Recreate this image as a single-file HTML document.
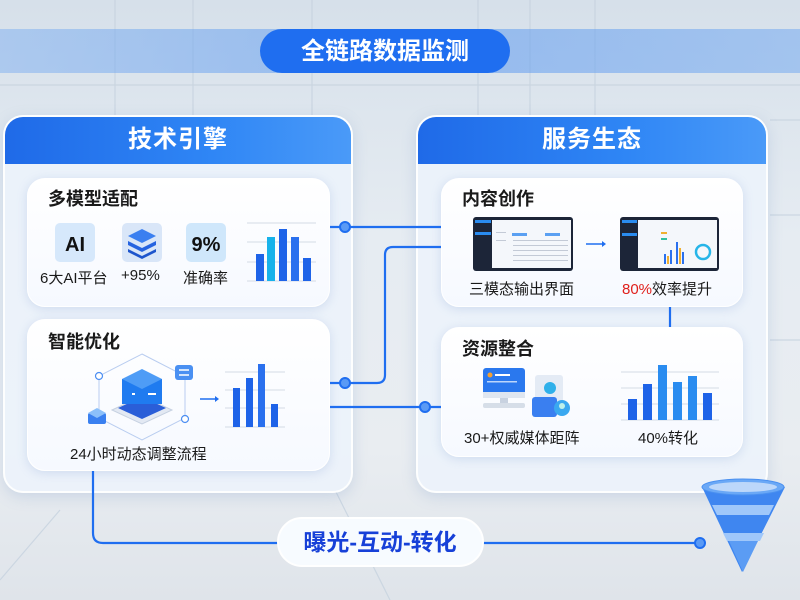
<!DOCTYPE html>
<html><head><meta charset="utf-8">
<style>
*{margin:0;padding:0;box-sizing:border-box}
body{width:800px;height:600px;overflow:hidden;position:relative;font-family:"Liberation Sans","Noto Sans CJK SC",sans-serif;
background:linear-gradient(180deg,#d6e0ea 0%,#e6ecf2 40%,#e9edf1 75%,#dfe4ea 100%);}
.abs{position:absolute}
.panel{position:absolute;border-radius:20px;background:rgba(236,243,252,0.85);border:2px solid rgba(255,255,255,0.9);box-shadow:0 4px 14px rgba(120,150,200,0.25);overflow:hidden}
.ph{height:47px;background:linear-gradient(90deg,#1f6ae8,#2f86f5 60%,#4a9af8);color:#fff;font-size:24px;font-weight:bold;text-align:center;line-height:46px;letter-spacing:1px}
.card{position:absolute;border-radius:18px;background:linear-gradient(180deg,#ffffff,#f6f9ff);box-shadow:0 2px 10px rgba(120,150,210,0.25);border:1px solid #fff}
.ct{position:absolute;font-size:18px;font-weight:bold;color:#1a1a1a}
.lb{position:absolute;font-size:15px;color:#1a1a1a;white-space:nowrap}
</style></head><body>
<svg class="abs" style="left:0;top:0" width="800" height="600">
<defs><linearGradient id="band" x1="0" x2="1"><stop offset="0" stop-color="#7eaff0" stop-opacity="0.5"/><stop offset="0.5" stop-color="#5b98ee" stop-opacity="0.55"/><stop offset="1" stop-color="#7eaff0" stop-opacity="0.6"/></linearGradient></defs>
<g stroke="#c6d2de" stroke-width="1.2" fill="none" opacity="0.8">
<line x1="115" y1="0" x2="115" y2="115"/><line x1="193" y1="0" x2="193" y2="115"/><line x1="312" y1="0" x2="312" y2="115"/><line x1="478" y1="0" x2="478" y2="115"/><line x1="530" y1="0" x2="530" y2="115"/><line x1="595" y1="0" x2="595" y2="115"/>
<line x1="0" y1="85" x2="800" y2="85"/>
<line x1="770" y1="120" x2="800" y2="120"/><line x1="770" y1="215" x2="800" y2="215"/><line x1="770" y1="340" x2="800" y2="340"/>
<line x1="0" y1="580" x2="60" y2="510"/><line x1="335" y1="490" x2="390" y2="600"/>
</g>
<rect x="0" y="29" width="800" height="44" fill="url(#band)"/>
<rect x="260" y="29" width="250" height="44" rx="22" fill="#1f6ef0"/>
<text x="385" y="59" text-anchor="middle" font-size="24" font-weight="bold" fill="#fff" font-family="Liberation Sans,Noto Sans CJK SC,sans-serif">全链路数据监测</text>
</svg>

<div class="panel" style="left:3px;top:115px;width:350px;height:378px"><div class="ph">技术引擎</div></div>
<div class="panel" style="left:416px;top:115px;width:352px;height:378px"><div class="ph">服务生态</div></div>

<div class="card" style="left:27px;top:178px;width:303px;height:129px"></div>
<div class="card" style="left:27px;top:319px;width:303px;height:152px"></div>
<div class="card" style="left:441px;top:178px;width:302px;height:129px"></div>
<div class="card" style="left:441px;top:327px;width:302px;height:130px"></div>

<div class="ct" style="left:48px;top:185px">多模型适配</div>
<div class="ct" style="left:48px;top:328px">智能优化</div>
<div class="ct" style="left:462px;top:185px">内容创作</div>
<div class="ct" style="left:462px;top:335px">资源整合</div>

<svg class="abs" style="left:0;top:0" width="800" height="600">
<g stroke="#1f6ef0" stroke-width="2.2" fill="none">
<line x1="330" y1="227" x2="441" y2="227"/>
<path d="M330 383 H377 Q385 383 385 375 V255 Q385 247 393 247 H441"/>
<line x1="330" y1="407" x2="441" y2="407"/>
<line x1="670" y1="307" x2="670" y2="327"/>
<path d="M93 471 V533 Q93 543 103 543 H280"/>
<line x1="483" y1="543" x2="700" y2="543"/>
</g>
<circle cx="345" cy="227" r="5" fill="#5a9af5" stroke="#1f6ef0" stroke-width="2"/>
<circle cx="345" cy="383" r="5" fill="#5a9af5" stroke="#1f6ef0" stroke-width="2"/>
<circle cx="425" cy="407" r="5" fill="#5a9af5" stroke="#1f6ef0" stroke-width="2"/>
<circle cx="700" cy="543" r="5" fill="#5a9af5" stroke="#1f6ef0" stroke-width="2"/>

<rect x="55" y="223" width="40" height="39" rx="5" fill="#d6e8fb"/>
<text x="75" y="251" text-anchor="middle" font-size="20" font-weight="bold" fill="#111">AI</text>
<rect x="122" y="223" width="40" height="39" rx="5" fill="#d9e6f8"/>
<path d="M142 229 L156 236 L142 243 L128 236Z" fill="#3a7ff0"/>
<path d="M128 241 L142 248 L156 241 L156 245 L142 252 L128 245Z" fill="#2563e0"/>
<path d="M128 249 L142 256 L156 249 L156 252 L142 259 L128 252Z" fill="#1e55cc"/>
<rect x="186" y="223" width="40" height="39" rx="5" fill="#cfe7fb"/>
<text x="206" y="251" text-anchor="middle" font-size="20" font-weight="bold" fill="#111">9%</text>
<g stroke="#d4dbe4" stroke-width="1"><line x1="247" y1="223" x2="316" y2="223"/><line x1="247" y1="242" x2="316" y2="242"/><line x1="247" y1="262" x2="316" y2="262"/><line x1="247" y1="281" x2="316" y2="281"/></g>
<rect x="256" y="254" width="8" height="27" fill="#1e63e8"/><rect x="267" y="237" width="8" height="44" fill="#17b2ea"/><rect x="279" y="229" width="8" height="52" fill="#1e63e8"/><rect x="291" y="237" width="8" height="44" fill="#2a70ee"/><rect x="303" y="258" width="8" height="23" fill="#1e63e8"/>

<path d="M142 354 L185 376 L185 418 L142 440 L99 418 L99 376Z" fill="none" stroke="#b9cdf0" stroke-width="1"/>
<circle cx="99" cy="376" r="3.5" fill="#fff" stroke="#4c8ef2" stroke-width="1.2"/>
<circle cx="185" cy="419" r="3.5" fill="#fff" stroke="#4c8ef2" stroke-width="1.2"/>
<path d="M112 410 L142 396 L172 410 L142 424Z" fill="#e3e9f3" stroke="#c6d1e1"/>
<path d="M118 408 L142 397 L166 408 L142 419Z" fill="#2a5ed8"/>
<rect x="122" y="379" width="40" height="25" fill="#1f7bf0"/>
<path d="M122 379 L142 369 L162 379 L142 389Z" fill="#4e9cf6"/>
<rect x="132" y="393" width="3" height="2" fill="#fff"/><rect x="148" y="393" width="8" height="2" fill="#fff"/>
<rect x="88" y="413" width="18" height="11" rx="2" fill="#3a80f0"/><path d="M88 413 L97 408 L106 413 L97 418Z" fill="#8cc0fa"/>
<rect x="175" y="365" width="18" height="15" rx="3" fill="#4a90f2"/><path d="M179 370 L189 370 M179 375 L189 375" stroke="#fff" stroke-width="1.5"/>
<line x1="200" y1="399" x2="215" y2="399" stroke="#1f6ef0" stroke-width="1.5"/><path d="M215 396 L219 399 L215 402Z" fill="#1f6ef0"/>
<g stroke="#d4dbe4" stroke-width="1"><line x1="225" y1="372" x2="285" y2="372"/><line x1="225" y1="390" x2="285" y2="390"/><line x1="225" y1="408" x2="285" y2="408"/><line x1="225" y1="427" x2="285" y2="427"/></g>
<rect x="233" y="388" width="7" height="39" fill="#1e63e8"/><rect x="246" y="378" width="7" height="49" fill="#1e63e8"/><rect x="258" y="364" width="7" height="63" fill="#2a70ee"/><rect x="271" y="404" width="7" height="23" fill="#1e63e8"/>

<g>
<rect x="473" y="217" width="100" height="54" rx="3" fill="#1c2538"/>
<rect x="492" y="220" width="79" height="48" fill="#f4f7fb"/>
<rect x="475" y="220" width="16" height="3" fill="#2a8cf0"/><rect x="475" y="232" width="16" height="3" fill="#2a8cf0"/>
<rect x="512" y="233" width="15" height="3" fill="#5aa0f2"/><rect x="545" y="233" width="15" height="3" fill="#5aa0f2"/>
<g fill="#c3cad6"><rect x="513" y="240" width="55" height="1"/><rect x="513" y="245" width="55" height="1"/><rect x="513" y="250" width="55" height="1"/><rect x="513" y="255" width="55" height="1"/><rect x="513" y="260" width="55" height="1"/><rect x="496" y="232" width="10" height="1"/><rect x="496" y="240" width="10" height="1"/></g>
<line x1="586" y1="244" x2="602" y2="244" stroke="#1f6ef0" stroke-width="1.5"/><path d="M602 241 L606 244 L602 247Z" fill="#1f6ef0"/>
<rect x="620" y="217" width="99" height="54" rx="3" fill="#1c2538"/>
<rect x="638" y="220" width="79" height="48" fill="#f4f7fb"/>
<rect x="622" y="220" width="15" height="3" fill="#2a8cf0"/><rect x="622" y="233" width="15" height="3" fill="#2a8cf0"/>
<rect x="661" y="232" width="6" height="2" fill="#f0b030"/><rect x="661" y="238" width="6" height="2" fill="#30c0a0"/>
<g fill="#2a70ee"><rect x="664" y="254" width="2" height="10"/><rect x="670" y="250" width="2" height="14"/><rect x="676" y="242" width="2" height="22"/><rect x="682" y="252" width="2" height="12"/></g>
<g fill="#f0b030"><rect x="667" y="256" width="2" height="8"/><rect x="679" y="248" width="2" height="16"/></g>
<circle cx="703" cy="252" r="7" fill="none" stroke="#26b5e8" stroke-width="2.5"/>
</g>
<rect x="483" y="368" width="42" height="30" rx="3" fill="#2a78ee"/>
<rect x="483" y="392" width="42" height="6" fill="#dfe6f0"/>
<rect x="500" y="398" width="8" height="5" fill="#c8d2e0"/><rect x="483" y="403" width="42" height="5" rx="2" fill="#d6dee8"/>
<circle cx="490" cy="375" r="2.5" fill="#f5a030"/><rect x="495" y="374" width="15" height="2" fill="#fff"/><rect x="487" y="381" width="30" height="1.5" fill="#bcd6fb"/>
<rect x="535" y="375" width="28" height="32" rx="3" fill="#e4ebf5"/>
<circle cx="550" cy="388" r="6" fill="#2fb0ea"/>
<rect x="532" y="397" width="25" height="20" rx="3" fill="#3a7ff0"/>
<circle cx="562" cy="408" r="8" fill="#3aa8f0"/><circle cx="562" cy="406" r="3" fill="#bdf0ea"/>
<g stroke="#d4dbe4" stroke-width="1"><line x1="621" y1="372" x2="719" y2="372"/><line x1="621" y1="388" x2="719" y2="388"/><line x1="621" y1="404" x2="719" y2="404"/><line x1="621" y1="420" x2="719" y2="420"/></g>
<rect x="628" y="399" width="9" height="21" fill="#1e63e8"/><rect x="643" y="384" width="9" height="36" fill="#1e63e8"/><rect x="658" y="365" width="9" height="55" fill="#2a8cf0"/><rect x="673" y="382" width="9" height="38" fill="#2a8cf0"/><rect x="688" y="376" width="9" height="44" fill="#2a8cf0"/><rect x="703" y="393" width="9" height="27" fill="#1e63e8"/>

<path d="M702 487 L785 487 L742 572Z" fill="#3f86f0"/>
<ellipse cx="743" cy="487" rx="41" ry="8" fill="#6aa8f6" stroke="#4a90f0"/>
<ellipse cx="743" cy="487" rx="34" ry="5" fill="#bcd7fa"/>
<path d="M712 505 L774 505 L769 515 L717 515Z" fill="#9fc7fa"/>
<path d="M723 533 L764 533 L760 541 L727 541Z" fill="#9fc7fa"/>
<path d="M729 541 L758 541 L743 572Z" fill="#5b9cf4"/>

<rect x="278" y="518" width="205" height="48" rx="24" fill="#f7fbff" stroke="#fff" stroke-width="2"/>
<text x="380" y="550" text-anchor="middle" font-size="23" font-weight="bold" fill="#1740d8" font-family="Liberation Sans,Noto Sans CJK SC,sans-serif">曝光-互动-转化</text>
</svg>

<div class="lb" style="left:40px;top:267px">6大AI平台</div>
<div class="lb" style="left:121px;top:267px">+95%</div>
<div class="lb" style="left:183px;top:267px">准确率</div>
<div class="lb" style="left:70px;top:443px">24小时动态调整流程</div>
<div class="lb" style="left:469px;top:278px">三模态输出界面</div>
<div class="lb" style="left:622px;top:278px"><span style="color:#e0201c">80%</span>效率提升</div>
<div class="lb" style="left:464px;top:427px">30+权威媒体距阵</div>
<div class="lb" style="left:638px;top:427px">40%转化</div>
</body></html>
